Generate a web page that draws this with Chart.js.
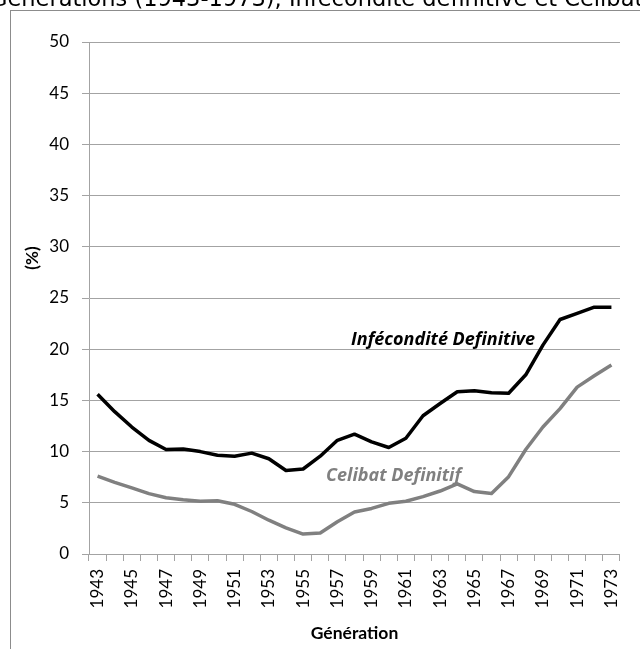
<!DOCTYPE html>
<html>
<head>
<meta charset="utf-8">
<script src="https://cdn.jsdelivr.net/npm/chart.js@4/dist/chart.umd.min.js"></script>
<style>
  html, body { margin: 0; padding: 0; background: #fff; }
  #wrap { width: 640px; height: 649px; }
</style>
</head>
<body>
<div id="wrap"><canvas id="c" width="640" height="649"></canvas></div>
<script>
const years = ["1943","1944","1945","1946","1947","1948","1949","1950","1951","1952","1953","1954","1955","1956","1957","1958","1959","1960","1961","1962","1963","1964","1965","1966","1967","1968","1969","1970","1971","1972","1973"];
const infecondite = [15.6, 13.9, 12.4, 11.1, 10.2, 10.25, 10.0, 9.65, 9.55, 9.85, 9.3, 8.15, 8.3, 9.55, 11.1, 11.7, 10.95, 10.4, 11.3, 13.5, 14.7, 15.85, 15.95, 15.75, 15.7, 17.5, 20.4, 22.9, 23.5, 24.1, 24.1];
const celibat = [7.6, 7.0, 6.45, 5.9, 5.5, 5.3, 5.15, 5.2, 4.85, 4.15, 3.3, 2.55, 1.95, 2.05, 3.15, 4.1, 4.45, 4.95, 5.15, 5.6, 6.15, 6.85, 6.1, 5.9, 7.55, 10.2, 12.4, 14.2, 16.3, 17.4, 18.45];
const titleText = "Générations (1943-1973), Infécondité définitive et Célibat définitif";
const seriesNames = ["Infécondité Definitive", "Celibat Definitif"];
const xTitle = "Génération";
const yTitle = "(%)";

const FONT = "Lato";
const gridColor = "#a3a3a3";

const decor = {
  id: "decor",
  beforeDraw(chart) {
    const ctx = chart.ctx;
    ctx.save();
    ctx.fillStyle = "#fff";
    ctx.fillRect(0, 0, chart.width, chart.height);
    ctx.restore();
  },
  afterDraw(chart) {
    const ctx = chart.ctx;
    ctx.save();
    // outer frame
    ctx.strokeStyle = "#8c8c8c";
    ctx.lineWidth = 1;
    ctx.strokeRect(10.5, 10.5, 800, 800);
    // clipped title
    ctx.fillStyle = "#000";
    ctx.font = "22.5px 'DejaVu Sans'";
    ctx.textAlign = "left";
    ctx.textBaseline = "alphabetic";
    ctx.fillText(titleText, -10, 6);
    // y title
    ctx.font = "bold 17px " + FONT;
    ctx.save();
    ctx.translate(33, 258);
    ctx.rotate(-Math.PI / 2);
    ctx.textAlign = "center";
    ctx.textBaseline = "middle";
    ctx.fillText(yTitle, 0, 0);
    ctx.restore();
    // x title
    ctx.font = "bold 17.5px " + FONT;
    ctx.textAlign = "center";
    ctx.textBaseline = "middle";
    ctx.fillText(xTitle, (chart.chartArea.left + chart.chartArea.right) / 2, 633);
    // series labels
    ctx.font = "italic bold 18px 'Open Sans'";
    ctx.textAlign = "left";
    ctx.textBaseline = "alphabetic";
    ctx.fillStyle = "#000";
    ctx.fillText(seriesNames[0], 351, 345);
    ctx.fillStyle = "#808080";
    ctx.fillText(seriesNames[1], 326, 481);
    ctx.restore();
  }
};

new Chart(document.getElementById("c"), {
  type: "line",
  data: {
    labels: years,
    datasets: [
      { label: seriesNames[0], data: infecondite, borderColor: "#000000", borderWidth: 3.5, pointRadius: 0, tension: 0, fill: false, borderJoinStyle: "round" },
      { label: seriesNames[1], data: celibat, borderColor: "#808080", borderWidth: 3.5, pointRadius: 0, tension: 0, fill: false, borderJoinStyle: "round" }
    ]
  },
  options: {
    responsive: false,
    animation: false,
    devicePixelRatio: 1,
    layout: { padding: { top: 42, right: 11, left: 0, bottom: 0 } },
    plugins: { legend: { display: false }, title: { display: false }, tooltip: { enabled: false } },
    scales: {
      x: {
        type: "category",
        offset: true,
        grid: { offset: true, drawOnChartArea: false, tickLength: 7, color: gridColor },
        border: { color: gridColor },
        ticks: {
          autoSkip: false, maxRotation: 90, minRotation: 90, padding: 8,
          color: "#000", font: { family: FONT, size: 17 },
          callback: (v, i) => (i % 2 === 0 ? years[i] : "")
        },
        afterFit: s => { s.height = 95; }
      },
      y: {
        min: 0, max: 50,
        ticks: { stepSize: 5, padding: 13, color: "#000", font: { family: FONT, size: 17 } },
        grid: { color: gridColor, tickLength: 7 },
        border: { color: gridColor },
        afterFit: s => { s.width = 89; }
      }
    }
  },
  plugins: [decor]
});
</script>
</body>
</html>
